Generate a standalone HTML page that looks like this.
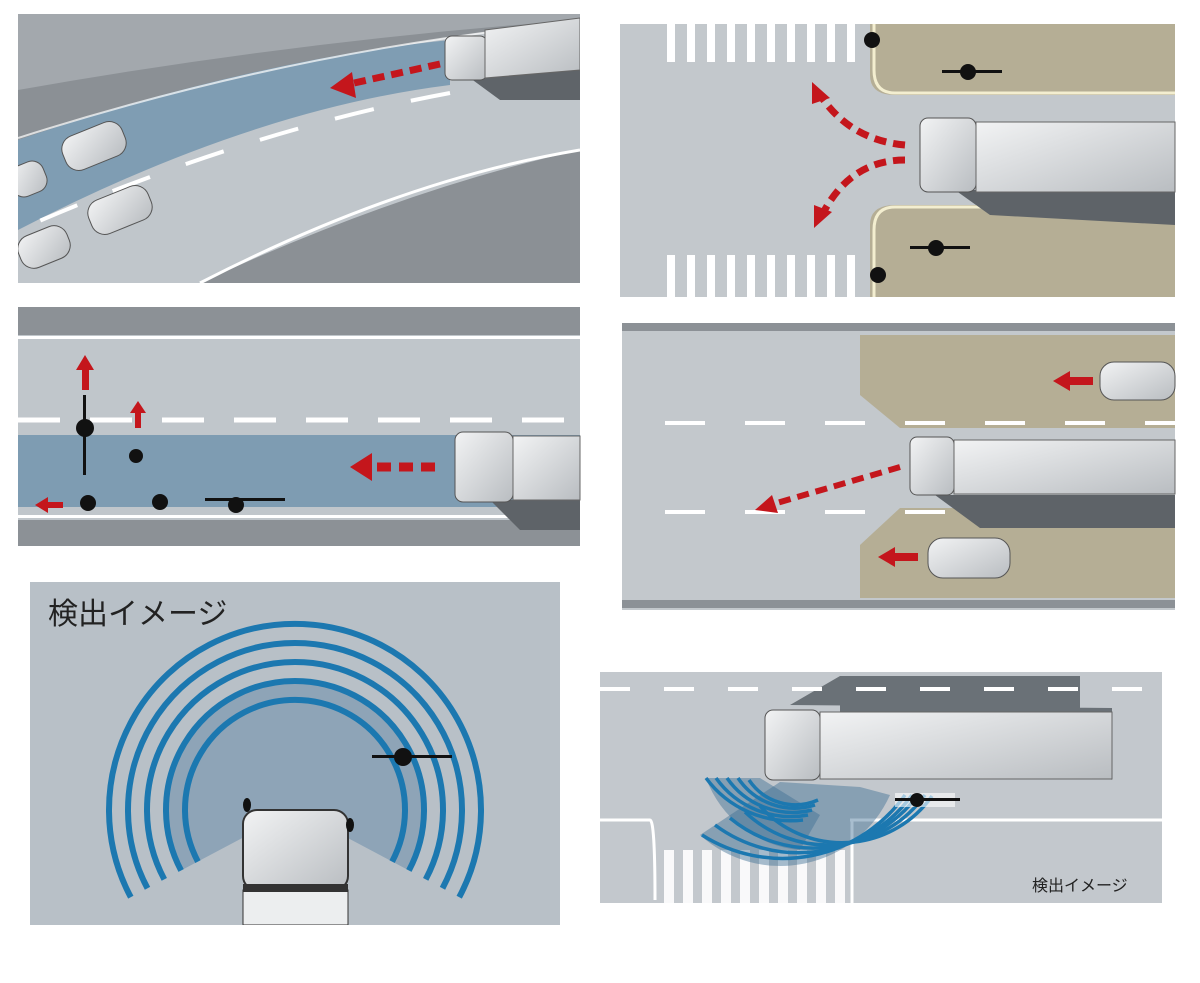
<!DOCTYPE html>
<html><head><meta charset="utf-8"><style>html,body{margin:0;padding:0;background:#fff}svg{display:block}</style></head>
<body>
<svg width="1200" height="983" viewBox="0 0 1200 983" xmlns="http://www.w3.org/2000/svg">
<defs>
<linearGradient id="tr" x1="0" y1="0" x2="1" y2="1"><stop offset="0" stop-color="#f2f3f4"/><stop offset="1" stop-color="#b9bdc1"/></linearGradient>
<clipPath id="c1"><rect x="18" y="14" width="562" height="269"/></clipPath>
<clipPath id="c6"><rect x="600" y="672" width="562" height="231"/></clipPath>
<clipPath id="c5"><rect x="30" y="582" width="530" height="343"/></clipPath>
</defs>

<!-- Panel 1 -->
<g clip-path="url(#c1)">
<rect x="18" y="14" width="562" height="269" fill="#8b9095"/>
<path d="M18 14 H580 V20 Q300 40 18 90 Z" fill="#a3a8ad"/>
<path d="M580 20 Q300 50 18 140 L18 283 L200 283 Q400 190 580 150 Z" fill="#c0c6cb"/>
<path d="M450 40 L450 85 Q250 110 18 230 L18 140 Q250 60 450 40 Z" fill="#7f9db3"/>
<path d="M580 150 Q400 180 200 283" stroke="#fff" stroke-width="3" fill="none"/>
<path d="M580 22 Q300 48 18 138" stroke="#fff" stroke-width="2" fill="none" opacity=".7"/>
<path d="M450 93 Q250 130 30 225" stroke="#fff" stroke-width="4" stroke-dasharray="40 38" fill="none"/>
<path d="M440 64 L345 85" stroke="#c4161c" stroke-width="7" stroke-dasharray="12 7" fill="none"/>
<polygon points="330,88 352,72 356,98" fill="#c4161c"/>
<polygon points="470,78 580,66 580,100 500,100" fill="#5f6469"/>
<rect x="445" y="36" width="42" height="44" rx="7" fill="url(#tr)" stroke="#555"/>
<polygon points="485,30 580,18 580,70 485,78" fill="url(#tr)" stroke="#666"/>
<g fill="url(#tr)" stroke="#555"><rect x="62" y="128" width="64" height="36" rx="14" transform="rotate(-22 94 146)"/><rect x="88" y="192" width="64" height="36" rx="14" transform="rotate(-22 120 210)"/><rect x="18" y="230" width="52" height="34" rx="14" transform="rotate(-22 44 247)"/><rect x="10" y="163" width="36" height="32" rx="12" transform="rotate(-22 28 179)"/></g>
</g>

<!-- Panel 2 -->
<rect x="620" y="24" width="555" height="273" fill="#c3c8cc"/>
<path d="M860 24 H1175 V95 H895 Q870 95 870 75 L870 24 Z" fill="#b5ae95"/>
<path d="M860 297 H1175 V205 H895 Q870 205 870 225 L870 297 Z" fill="#b5ae95"/>
<path d="M1175 93 H895 Q874 93 874 70 V24 M1175 207 H895 Q874 207 874 230 V297" stroke="#f3eed0" stroke-width="3" fill="none"/>
<g fill="#fff"><rect x="667" y="24" width="8" height="38"/><rect x="687" y="24" width="8" height="38"/><rect x="707" y="24" width="8" height="38"/><rect x="727" y="24" width="8" height="38"/><rect x="747" y="24" width="8" height="38"/><rect x="767" y="24" width="8" height="38"/><rect x="787" y="24" width="8" height="38"/><rect x="807" y="24" width="8" height="38"/><rect x="827" y="24" width="8" height="38"/><rect x="847" y="24" width="8" height="38"/>
<rect x="667" y="255" width="8" height="42"/><rect x="687" y="255" width="8" height="42"/><rect x="707" y="255" width="8" height="42"/><rect x="727" y="255" width="8" height="42"/><rect x="747" y="255" width="8" height="42"/><rect x="767" y="255" width="8" height="42"/><rect x="787" y="255" width="8" height="42"/><rect x="807" y="255" width="8" height="42"/><rect x="827" y="255" width="8" height="42"/><rect x="847" y="255" width="8" height="42"/></g>
<polygon points="955,190 1175,190 1175,225 990,215" fill="#5e6368"/>
<rect x="920" y="118" width="56" height="74" rx="8" fill="url(#tr)" stroke="#555"/>
<rect x="976" y="122" width="199" height="70" fill="url(#tr)" stroke="#666"/>
<path d="M905 145 Q850 140 820 95" stroke="#c4161c" stroke-width="7" stroke-dasharray="12 7" fill="none"/>
<polygon points="812,82 830,98 812,104" fill="#c4161c"/>
<path d="M905 160 Q850 160 822 215" stroke="#c4161c" stroke-width="7" stroke-dasharray="12 7" fill="none"/>
<polygon points="814,228 814,205 832,212" fill="#c4161c"/>
<g><circle cx="872" cy="40" r="8" fill="#111"/><circle cx="968" cy="72" r="8" fill="#111"/><rect x="942" y="70" width="60" height="3" fill="#111"/><circle cx="936" cy="248" r="8" fill="#111"/><rect x="910" y="246" width="60" height="3" fill="#111"/><circle cx="878" cy="275" r="8" fill="#111"/></g>

<!-- Panel 3 -->
<rect x="18" y="307" width="562" height="239" fill="#c0c6cb"/>
<rect x="18" y="307" width="562" height="28" fill="#8c9196"/>
<rect x="18" y="520" width="562" height="26" fill="#8c9196"/>
<rect x="18" y="336" width="562" height="3" fill="#fff"/>
<rect x="18" y="515" width="562" height="3" fill="#fff"/>
<rect x="18" y="435" width="562" height="72" fill="#7e9cb2"/>
<path d="M18 420 H580" stroke="#fff" stroke-width="5" stroke-dasharray="42 30"/>
<polygon points="490,500 580,500 580,530 520,530" fill="#5e6368"/>
<rect x="455" y="432" width="58" height="70" rx="8" fill="url(#tr)" stroke="#555"/>
<rect x="513" y="436" width="67" height="64" fill="url(#tr)" stroke="#666"/>
<path d="M435 467 H375" stroke="#c4161c" stroke-width="9" stroke-dasharray="14 8"/>
<polygon points="350,467 372,453 372,481" fill="#c4161c"/>
<g fill="#c4161c"><rect x="82" y="368" width="7" height="22"/><polygon points="76,370 85,355 94,370"/><rect x="135" y="412" width="6" height="16"/><polygon points="130,413 138,401 146,413"/><rect x="45" y="502" width="18" height="6"/><polygon points="35,505 48,497 48,513"/></g>
<g fill="#111"><circle cx="85" cy="428" r="9"/><rect x="83" y="395" width="3" height="80"/><circle cx="136" cy="456" r="7"/><circle cx="88" cy="503" r="8"/><circle cx="160" cy="502" r="8"/><circle cx="236" cy="505" r="8"/><rect x="205" y="498" width="80" height="3"/></g>

<!-- Panel 4 -->
<rect x="622" y="323" width="553" height="287" fill="#c3c8cc"/>
<rect x="622" y="323" width="553" height="8" fill="#8c9196"/>
<rect x="622" y="600" width="553" height="8" fill="#8c9196"/>
<polygon points="860,335 1175,335 1175,428 900,428 860,395" fill="#b5ae95"/>
<polygon points="900,508 1175,508 1175,598 860,598 860,545" fill="#b5ae95"/>
<path d="M665 423 H1175 M665 512 H1175" stroke="#fff" stroke-width="4" stroke-dasharray="40 40"/>
<polygon points="935,495 1175,495 1175,528 980,528" fill="#5e6368"/>
<rect x="910" y="437" width="44" height="58" rx="7" fill="url(#tr)" stroke="#555"/>
<rect x="954" y="440" width="221" height="54" fill="url(#tr)" stroke="#666"/>
<path d="M900 467 L770 505" stroke="#c4161c" stroke-width="6" stroke-dasharray="12 7"/>
<polygon points="755,510 772,495 778,513" fill="#c4161c"/>
<rect x="1100" y="362" width="75" height="38" rx="14" fill="url(#tr)" stroke="#555"/>
<rect x="928" y="538" width="82" height="40" rx="15" fill="url(#tr)" stroke="#555"/>
<g fill="#c4161c"><rect x="1068" y="377" width="25" height="8"/><polygon points="1053,381 1070,371 1070,391"/><rect x="893" y="553" width="25" height="8"/><polygon points="878,557 895,547 895,567"/></g>

<!-- Panel 5 -->
<g clip-path="url(#c5)">
<rect x="30" y="582" width="530" height="343" fill="#b8c0c7"/>
<path d="M295 810 L180 871 A130 130 0 1 1 410 871 Z" fill="#8ea4b7"/>
<g stroke="#1c78b0" stroke-width="6" fill="none">
<path d="M197.9 861.6 A110 110 0 1 1 392.1 861.6"/>
<path d="M181.1 870.5 A129 129 0 1 1 408.9 870.5"/>
<path d="M164.3 879.4 A148 148 0 1 1 425.7 879.4"/>
<path d="M147.5 888.3 A167 167 0 1 1 442.5 888.3"/>
<path d="M130.8 897.2 A186 186 0 1 1 459.2 897.2"/>
</g>
<text x="48" y="624" font-family="Liberation Sans,'Noto Sans CJK JP',sans-serif" font-size="30" fill="#222">検出イメージ</text>
<rect x="243" y="810" width="105" height="80" rx="14" fill="url(#tr)" stroke="#333" stroke-width="2"/>
<rect x="243" y="890" width="105" height="35" fill="#eceeef" stroke="#333"/>
<rect x="243" y="884" width="105" height="8" fill="#333"/>
<g fill="#111"><circle cx="403" cy="757" r="9"/><rect x="372" y="755" width="80" height="3"/><ellipse cx="247" cy="805" rx="4" ry="7"/><ellipse cx="350" cy="825" rx="4" ry="7"/></g>
</g>

<!-- Panel 6 -->
<g clip-path="url(#c6)">
<rect x="600" y="672" width="562" height="231" fill="#c3c8cd"/>
<polygon points="790,705 840,676 1080,676 1080,750 1112,780 1112,708" fill="#6a7177"/>
<rect x="840" y="676" width="240" height="40" fill="#6a7177"/>
<path d="M600 689 H1162" stroke="#fff" stroke-width="4" stroke-dasharray="30 34"/>
<path d="M600 820 H650 Q655 820 655 900 M850 820 H1162 M852 820 Q852 840 852 903" stroke="#fff" stroke-width="3" fill="none"/>
<g fill="#fff" opacity=".9"><rect x="664" y="850" width="10" height="53"/><rect x="683" y="850" width="10" height="53"/><rect x="702" y="850" width="10" height="53"/><rect x="721" y="850" width="10" height="53"/><rect x="740" y="850" width="10" height="53"/><rect x="759" y="850" width="10" height="53"/><rect x="778" y="850" width="10" height="53"/><rect x="797" y="850" width="10" height="53"/><rect x="816" y="850" width="10" height="53"/><rect x="835" y="850" width="10" height="53"/></g>
<rect x="765" y="710" width="55" height="70" rx="8" fill="url(#tr)" stroke="#555"/>
<rect x="820" y="712" width="292" height="67" fill="url(#tr)" stroke="#666"/>
<path d="M760 778 L706 778 A110 110 0 0 0 800 850 L820 815 Z" fill="#3f6f95" opacity=".45"/>
<path d="M780 782 L860 787 L890 795 A120 120 0 0 1 700 835 Z" fill="#3f6f95" opacity=".45"/>
<g stroke="#1c78b0" stroke-width="3.5" fill="none">
<path d="M706 778 A105 105 0 0 0 803 820"/><path d="M716 778 A92 92 0 0 0 808 815"/><path d="M727 778 A80 80 0 0 0 812 810"/><path d="M738 778 A68 68 0 0 0 815 805"/><path d="M749 780 A56 56 0 0 0 818 800"/>
<path d="M702 835 A150 150 0 0 0 905 795"/><path d="M715 825 A140 140 0 0 0 912 795"/><path d="M730 818 A130 130 0 0 0 918 795"/><path d="M745 812 A120 120 0 0 0 925 795"/><path d="M760 806 A110 110 0 0 0 932 796"/>
</g>
<rect x="895" y="793" width="60" height="14" fill="#fff" opacity=".6"/>
<circle cx="917" cy="800" r="7" fill="#111"/><rect x="895" y="798" width="65" height="3" fill="#111"/>
<text x="1032" y="891" font-family="Liberation Sans,'Noto Sans CJK JP',sans-serif" font-size="16" fill="#222">検出イメージ</text>
</g>
</svg>
</body></html>
